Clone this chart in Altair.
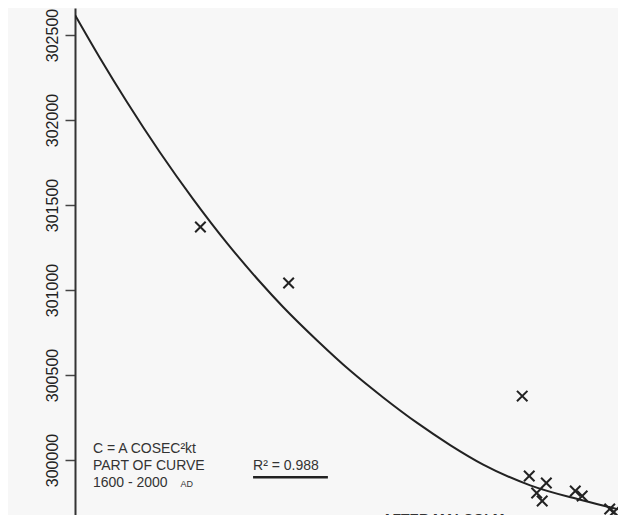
import altair as alt
import pandas as pd

obs_year = [1691, 1755, 1924.5, 1929.6, 1942, 1935, 1939, 1963, 1968, 1988, 1991]
obs_value = [301371, 301041, 300376, 299906, 299865, 299806, 299759, 299818, 299788, 299712, 299694]

# Fitted curve C = A cosec^2 kt
curve_year = [1600, 1618.1, 1637.7, 1661.7, 1685.7, 1710.3, 1734.3, 1751.0, 1775.7,
              1799.6, 1823.6, 1848.3, 1872.2, 1896.2, 1930.3, 1966.6, 1994]
curve_value = [302618, 302365, 302106, 301809, 301535, 301276, 301047, 300900, 300703,
               300526, 300368, 300218, 300088, 299973, 299851, 299766, 299710]

y_ticks = [299500, 300000, 300500, 301000, 301500, 302000, 302500]

# Annotation texts
ann_text = ["C = A COSEC\u00b2kt", "PART OF CURVE", "1600 - 2000"]
ann_year = [1613, 1613, 1613]
ann_value = [300041, 299941, 299841]

X_DOM = [1600, 1994]
Y_DOM = [299364.7, 302658.8]

xs = alt.Scale(domain=X_DOM, nice=False, zero=False)
ys = alt.Scale(domain=Y_DOM, nice=False, zero=False)

obs = pd.DataFrame({"year": obs_year, "value": obs_value})
curve = pd.DataFrame({"year": curve_year, "value": curve_value})
ann = pd.DataFrame({"label": ann_text, "year": ann_year, "value": ann_value})
ad = pd.DataFrame({"label": ["AD"], "year": [1676.5], "value": [299841]})
r2 = pd.DataFrame({"label": ["R\u00b2 = 0.988"], "year": [1729.2], "value": [299941]})
r2line = pd.DataFrame({"year": [1729.2], "year2": [1783.5], "value": [299898]})
foot = pd.DataFrame({"label": ["AFTER MALCOLM"], "year": [1823], "value": [299688]})

INK = "#222222"
FONT = "Liberation Sans"

line = alt.Chart(curve).mark_line(color=INK, strokeWidth=2, interpolate="monotone", clip=True).encode(
    x=alt.X("year:Q", scale=xs, axis=None),
    y=alt.Y("value:Q", scale=ys, axis=alt.Axis(
        values=y_ticks, title=None, grid=False,
        labelAngle=270, labelAlign="center", labelBaseline="bottom",
        labelFontSize=16, labelFont=FONT, labelColor="#222",
        labelPadding=5, tickSize=10, tickColor="#444", tickWidth=1.5,
        domainColor="#333", domainWidth=2, labelOverlap=False, labelFlush=False,
        format="d")),
)

pts = alt.Chart(obs).mark_point(
    shape="M-1,-1L1,1M-1,1L1,-1", filled=False, color=INK, strokeWidth=2, size=110,
    opacity=1, clip=True
).encode(x=alt.X("year:Q", scale=xs), y=alt.Y("value:Q", scale=ys))

ann_t = alt.Chart(ann).mark_text(align="left", baseline="alphabetic", font=FONT, fontSize=14,
                                 color="#333").encode(
    x=alt.X("year:Q", scale=xs), y=alt.Y("value:Q", scale=ys), text="label:N")

ad_t = alt.Chart(ad).mark_text(align="left", baseline="alphabetic", font=FONT, fontSize=9,
                               color="#333").encode(
    x=alt.X("year:Q", scale=xs), y=alt.Y("value:Q", scale=ys), text="label:N")

r2_t = alt.Chart(r2).mark_text(align="left", baseline="alphabetic", font=FONT, fontSize=14,
                               color="#333").encode(
    x=alt.X("year:Q", scale=xs), y=alt.Y("value:Q", scale=ys), text="label:N")

r2_rule = alt.Chart(r2line).mark_rule(color=INK, strokeWidth=2.5).encode(
    x=alt.X("year:Q", scale=xs), x2="year2:Q", y=alt.Y("value:Q", scale=ys))

foot_t = alt.Chart(foot).mark_text(align="left", baseline="top", font=FONT, fontSize=14,
                                   fontWeight="bold", color="#333").encode(
    x=alt.X("year:Q", scale=xs), y=alt.Y("value:Q", scale=ys), text="label:N")

chart = alt.layer(line, pts, ann_t, ad_t, r2_t, r2_rule, foot_t).properties(
    width=543, height=560,
    autosize=alt.AutoSizeParams(type="none"),
    padding={"left": 67, "top": 0, "right": 0, "bottom": 0},
    background="#f7f7f7",
).configure_view(stroke=None)

chart.save("out.html", embed_options={"renderer": "svg", "actions": False})
